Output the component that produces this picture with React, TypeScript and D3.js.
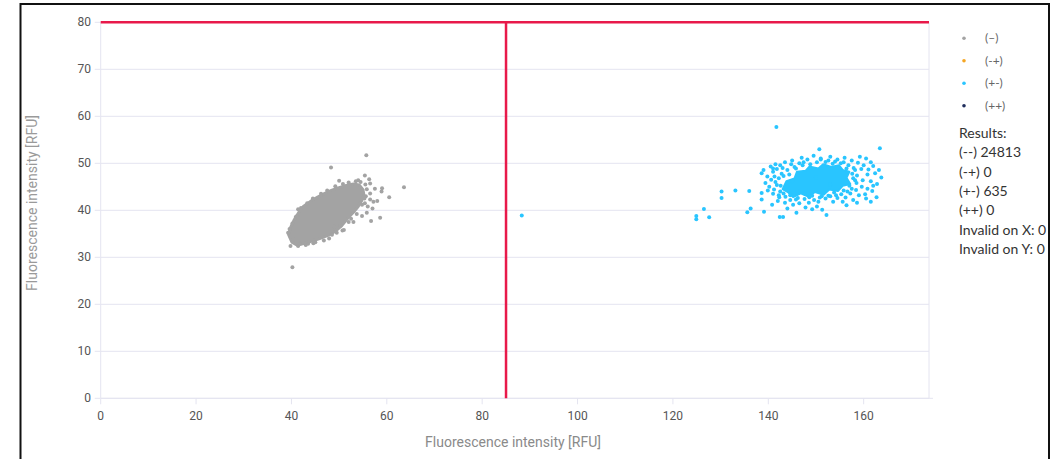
import * as d3 from "d3";

// threshold lines
const X_THRESHOLD = 85;
const Y_THRESHOLD = 80;

const xTicks = [0, 20, 40, 60, 80, 100, 120, 140, 160];
const yTicks = [0, 10, 20, 30, 40, 50, 60, 70, 80];

// dense core of the (--) cluster, outline
const grayCore: [number, number][] = [
  [39.4, 34.8], [39.8, 36.3], [40.5, 37.8], [41.5, 39.5], [42.5, 40.8], [44, 41.9], [45.5, 42.8],
  [47, 43.6], [48.5, 44.3], [50, 44.8], [51.5, 45.3], [53, 45.6], [54.2, 45.4], [55, 44.4],
  [55.2, 43.2], [54.7, 42], [54, 40.8], [53, 39.6], [51.8, 38.3], [50.6, 36.8], [49.3, 35.6],
  [47.8, 34.7], [46.2, 34.1], [44.5, 33.5], [42.8, 33], [41.2, 32.6], [40.1, 33.2],
];

const grayPoints: [number, number][] = [
  [55.7, 51.7], [48.3, 49.1], [50.0, 46.3], [55.4, 47.4], [56.3, 46.6], [56.5, 45.7], [63.6, 44.9],
  [59.0, 44.7], [58.9, 44.0], [60.5, 42.8], [56.5, 43.6], [56.5, 42.3], [55.4, 41.5], [57.0, 40.4],
  [55.8, 39.5], [58.6, 38.4], [56.7, 37.7], [50.7, 35.7], [50.3, 36.7], [41.4, 40.2], [40.9, 38.6],
  [39.3, 35.2], [39.8, 32.4], [41.4, 32.4], [44.6, 33.0], [46.3, 34.4], [47.9, 34.0], [40.2, 27.9],
  [54.5, 46], [53.5, 46.2], [52, 45.9], [55.8, 44.5], [55.6, 43], [55.3, 42.5], [54.8, 41.2],
  [53.7, 39.2], [52.5, 38.2], [52, 37.5], [49.5, 35.2], [48.5, 34.8], [45, 33.2], [43, 32.6],
  [41.8, 32.9], [40.3, 33.8], [39.6, 36], [40.2, 37.2], [41.2, 38.8], [42, 40.5], [43.3, 41.5],
  [44.5, 42.5], [46.2, 43.5], [49.2, 45.1], [50.8, 45.6], [47.5, 44.2], [54, 46.4], [55.5, 45.5],
  [57.5, 44.6], [58, 42], [57.2, 41.8], [54.8, 38.8], [53, 37.5], [51, 35.8], [46.8, 33.6],
  [43.5, 32.9], [49, 36.5], [56, 40.8],
];

// dense core of the (+-) cluster
const blueCore: [number, number][] = [
  [143, 44.5], [143.8, 46.2], [145.5, 46.8], [146, 48.2], [147.8, 48.4], [148.6, 49.3], [150.5, 48.9],
  [151.5, 49.8], [153.2, 49.2], [154.8, 49.6], [155.6, 48.6], [157, 48.2], [156.4, 46.9], [157.2, 45.6],
  [155.6, 45.2], [154.6, 44.1], [152.8, 44.4], [151.6, 43.3], [149.8, 43.9], [148.4, 42.9], [146.8, 43.6],
  [145.2, 42.8], [144.2, 43.8],
];

const bluePoints: [number, number][] = [
  [88.3, 38.9], [141.7, 57.7], [124.9, 38.8], [124.9, 38.1], [126.5, 40.3], [127.6, 38.5], [130.2, 44.0],
  [130.2, 42.6], [133.1, 44.2], [136.0, 44.1], [135.6, 39.6], [136.3, 40.4], [138.6, 43.7], [138.6, 42.3],
  [138.6, 47.9], [139.1, 39.7], [141.0, 48.9], [141.0, 48.2], [142.4, 38.6], [143.1, 38.6], [145.9, 39.5],
  [150.7, 53.0], [152.2, 39.0], [163.4, 53.2], [163.7, 47.0], [162.7, 42.8], [159.2, 51.4], [156.4, 41.1],
  [153.6, 41.8], [151.3, 40.1],
  [147, 51.2], [149.5, 51.6], [151, 51.0], [153, 51.4], [154.5, 50.8], [156, 51.2], [157.5, 50.6],
  [160.5, 51.0], [161.5, 50.2], [145, 50.6], [148.2, 50.8],
  [143.5, 50.2], [144.8, 49.8], [146.5, 50.0], [152, 50.3], [155.2, 50.0], [158.8, 50.1], [160, 49.6],
  [162, 49.4], [163.2, 48.6], [142.5, 49.6],
  [140.5, 49.3], [141.8, 48.8], [143, 49], [157.9, 49], [159.5, 48.8], [161, 48.7], [162.4, 47.9],
  [160.8, 47.6], [158.6, 47.4],
  [139.8, 47.2], [140.6, 46.5], [159.8, 46.4], [161.5, 46.2], [162.8, 45.6], [158.5, 45.8],
  [139.4, 45.8], [140.2, 45.0], [139.9, 44.2], [141.2, 44.4], [141, 43.5], [142.3, 42.8], [159.6, 45],
  [160.8, 44.6], [161.8, 44.1], [158.4, 44.3], [157.2, 43.6], [159, 43.2], [160.3, 43.4], [156.2, 42.7],
  [142, 42], [143.5, 41.6], [144.6, 42.2], [145.2, 41.2], [146.5, 41.5], [147.6, 42.4], [148.5, 41.6],
  [149.6, 42.2], [150.5, 41.8], [152, 42.5], [153, 43], [154.5, 42.6], [155.3, 43.4], [157.8, 42.2],
  [144, 40.4], [147.8, 40.6], [149.2, 40.2], [150.2, 40.8], [155.6, 41.8], [140.8, 41.2], [158.6, 41.6],
  [161.5, 41.8],
  [142.8, 47.8], [144, 48.6], [145.5, 49.2], [147.2, 49.6], [150.2, 50.2], [153.5, 49.9], [156.8, 49.6],
  [158.2, 48.6], [157.8, 46.8], [157, 45.2], [155.8, 44.2], [153.8, 43.8], [151.2, 43], [148.6, 42.8],
  [145.8, 42.3], [143.6, 42.9], [142.5, 44], [141.8, 45.4], [142.2, 46.8], [141.3, 47.2],
  [141.5, 46], [142.6, 45.2], [143.2, 47.3], [144.4, 47.6], [145, 46.2], [146.2, 47.6], [145.8, 48.9],
  [147.4, 50.2], [148.8, 49.8], [151, 50.8], [152.6, 50.6], [154, 50.4], [155.8, 50.2], [156.4, 48.9],
  [157.6, 47.8], [158.2, 46.4], [157.5, 44.6], [156.6, 44], [154.2, 43.2], [152.6, 43.1], [150.8, 42.7],
  [149.2, 43.1], [147.6, 43.6], [146.2, 42.6], [144.6, 43.2], [143.2, 43.6], [142.2, 43.2], [144, 45],
  [141.5, 49.8], [139, 48.6], [162, 45.2], [160.5, 42.5], [146, 44], [153, 45.5], [150, 47],
];

const legendLabels = ["(–)", "(-+)", "(+-)", "(++)"];
const legendColors = ["#a3a3a3", "#f5a623", "#29c5ff", "#1f2d5c"];
const resultLines = ["Results:", "(--) 24813", "(-+) 0", "(+-) 635", "(++) 0", "Invalid on X: 0", "Invalid on Y: 0"];

const W = 1063;
const H = 459;
const GRAY = "#a3a3a3";
const BLUE = "#29c5ff";
const RED = "#e8194a";
const GRID = "#e4e4f0";

export default function App() {
  const x = d3.scaleLinear().domain([0, 173.7]).range([100.7, 929]);
  const y = d3.scaleLinear().domain([0, 80]).range([398.3, 22.3]);
  const poly = d3.line<[number, number]>().x(d => x(d[0])).y(d => y(d[1])).curve(d3.curveLinearClosed);

  return (
    <div style={{ position: "absolute", left: 0, top: 0 }}>
      <svg width={W} height={H} style={{ display: "block", background: "#fff" }}>
        {/* gridlines */}
        {yTicks.map(t => (
          <line key={"g" + t} x1={x(0)} x2={929} y1={y(t)} y2={y(t)} stroke={GRID} strokeWidth={1} />
        ))}
        <line x1={x(0)} x2={x(0)} y1={y(80)} y2={y(0)} stroke={GRID} />
        <line x1={929} x2={929} y1={y(80)} y2={y(0)} stroke={GRID} />
        <line x1={x(0)} x2={933} y1={y(0)} y2={y(0)} stroke={GRID} />

        {/* ticks */}
        {yTicks.map(t => (
          <g key={"y" + t}>
            <line x1={x(0) - 6} x2={x(0)} y1={y(t)} y2={y(t)} stroke={GRID} />
            <text x={91} y={y(t) + 4} textAnchor="end" fontFamily="Roboto" fontSize={12} fill="#555">{t}</text>
          </g>
        ))}
        {xTicks.map(t => (
          <g key={"x" + t}>
            <line x1={x(t)} x2={x(t)} y1={y(0)} y2={y(0) + 6} stroke={GRID} />
            <text x={x(t)} y={420} textAnchor="middle" fontFamily="Roboto" fontSize={12} fill="#555">{t}</text>
          </g>
        ))}

        {/* axis titles */}
        <text x={513} y={447} textAnchor="middle" fontFamily="Roboto" fontSize={14} fill="#8a8a8a">
          Fluorescence intensity [RFU]
        </text>
        <text transform={`translate(37,${203}) rotate(-90)`} textAnchor="middle" fontFamily="Roboto" fontSize={14} fill="#9a9a9a">
          Fluorescence intensity [RFU]
        </text>

        {/* (--) cluster */}
        <path d={poly(grayCore) ?? ""} fill={GRAY} stroke={GRAY} strokeWidth={3} strokeLinejoin="round" />
        {grayPoints.map((d, i) => (
          <circle key={"gp" + i} cx={x(d[0])} cy={y(d[1])} r={2} fill={GRAY} />
        ))}

        {/* (+-) cluster */}
        <path d={poly(blueCore) ?? ""} fill={BLUE} stroke={BLUE} strokeWidth={2} strokeLinejoin="round" />
        {bluePoints.map((d, i) => (
          <circle key={"bp" + i} cx={x(d[0])} cy={y(d[1])} r={2} fill={BLUE} />
        ))}

        {/* thresholds */}
        <line x1={x(0)} x2={929} y1={y(Y_THRESHOLD)} y2={y(Y_THRESHOLD)} stroke={RED} strokeWidth={2.5} />
        <line x1={x(X_THRESHOLD)} x2={x(X_THRESHOLD)} y1={y(Y_THRESHOLD)} y2={y(0)} stroke={RED} strokeWidth={2.5} />

        {/* legend */}
        {legendLabels.map((l, i) => (
          <g key={l} transform={`translate(0,${38.3 + i * 22.5})`}>
            <circle cx={964} cy={0} r={1.8} fill={legendColors[i]} />
            <text x={985} y={4} fontFamily="Lato" fontSize={12} fill="#666">{l}</text>
          </g>
        ))}
        {resultLines.map((l, i) => (
          <text key={l} x={959} y={138 + i * 19.3} fontFamily="Lato" fontSize={14} fill="#333">{l}</text>
        ))}

        {/* frame */}
        <rect x={20.5} y={4} width={1028.5} height={470} fill="none" stroke="#111" strokeWidth={2} />
      </svg>
    </div>
  );
}
